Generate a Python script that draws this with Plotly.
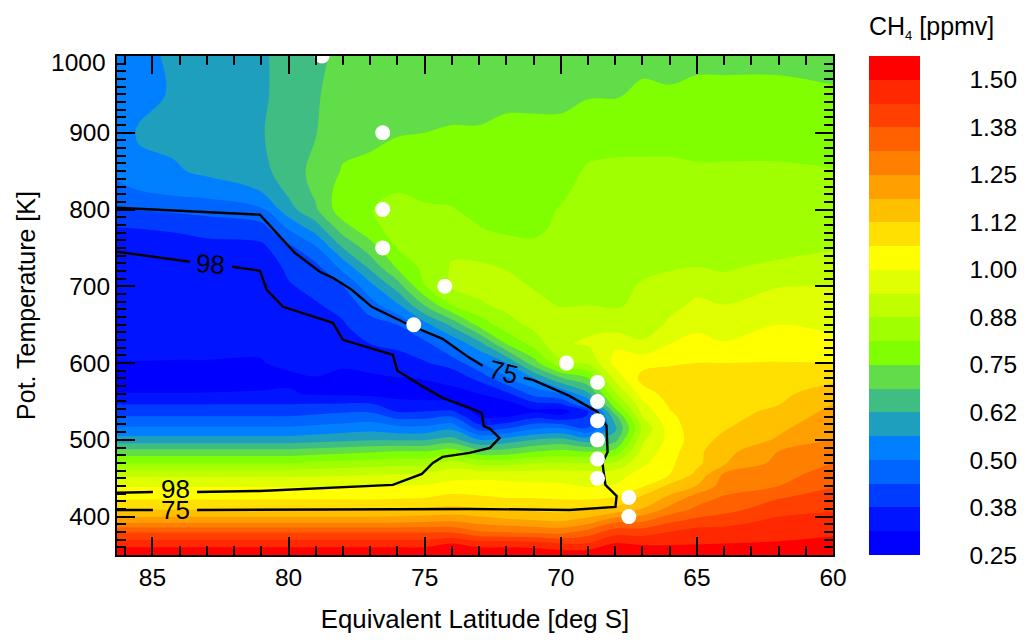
import plotly.graph_objects as go

FONT = "Liberation Sans, Arial, sans-serif"
TICK = 24.5

theta_levels = [350,365,380,395,410,425,440,455,470,485,500,515,530,537,545,560,580,600,625,650,675,700,725,750,775,800,825,850,900,950,1000]
lat_columns = [86.3,85.5,84.2,83,81,80,79,78,77,76,75,74,73,72,71,70,69,68,67,66,65,64,62,60]

ch4_by_lat = [
 [1.56,1.47,1.37,1.22,1.12,1.05,.995,.92,.81,.71,.59,.51,.44,.41,.38,.315,.28,.31,.33,.335,.34,.345,.35,.355,.37,.43,.49,.51,.52,.53,.52],
 [1.56,1.47,1.37,1.22,1.12,1.05,.995,.92,.81,.71,.59,.51,.44,.41,.38,.315,.28,.31,.33,.335,.34,.345,.35,.355,.375,.44,.50,.545,.57,.54,.535],
 [1.56,1.47,1.37,1.22,1.12,1.05,.995,.92,.81,.71,.59,.51,.44,.41,.38,.315,.28,.31,.325,.33,.335,.34,.345,.355,.38,.45,.52,.555,.58,.57,.58],
 [1.56,1.47,1.37,1.22,1.12,1.05,.995,.92,.81,.71,.59,.51,.44,.41,.38,.315,.285,.31,.325,.33,.335,.34,.345,.355,.395,.46,.53,.575,.59,.60,.60],
 [1.56,1.47,1.37,1.22,1.12,1.05,.995,.92,.81,.71,.59,.51,.44,.41,.38,.32,.285,.31,.32,.325,.33,.34,.345,.36,.41,.49,.565,.61,.62,.615,.615],
 [1.56,1.47,1.37,1.22,1.12,1.05,.995,.92,.81,.71,.59,.51,.44,.41,.38,.32,.30,.325,.33,.35,.36,.37,.385,.42,.505,.60,.64,.65,.66,.65,.65],
 [1.56,1.47,1.37,1.22,1.12,1.05,.995,.925,.82,.72,.60,.52,.45,.42,.385,.305,.31,.33,.34,.355,.37,.39,.42,.49,.59,.68,.70,.71,.685,.68,.66],
 [1.56,1.47,1.37,1.22,1.12,1.05,.995,.93,.83,.73,.61,.53,.46,.43,.39,.30,.30,.32,.35,.37,.39,.4375,.52,.625,.72,.79,.78,.755,.73,.72,.72],
 [1.56,1.47,1.37,1.22,1.12,1.05,1.0,.935,.84,.74,.62,.54,.47,.43,.39,.295,.30,.335,.375,.41,.47,.54,.64,.72,.79,.81,.80,.77,.73,.73,.72],
 [1.56,1.47,1.37,1.225,1.125,1.055,1.0,.94,.85,.75,.62,.52,.42,.37,.34,.29,.31,.345,.39,.4375,.55,.655,.76,.815,.84,.83,.81,.79,.745,.73,.72],
 [1.56,1.47,1.37,1.23,1.13,1.06,1.005,.95,.85,.75,.62,.52,.42,.375,.33,.29,.315,.37,.415,.54,.6875,.81,.83,.84,.83,.82,.80,.785,.75,.73,.72],
 [1.56,1.50,1.37,1.24,1.14,1.08,1.02,.975,.90,.78,.65,.55,.4375,.385,.325,.29,.335,.40,.51,.64,.81,.88,.88,.865,.85,.815,.80,.78,.755,.73,.72],
 [1.56,1.47,1.32,1.22,1.125,1.07,1.025,.98,.85,.71,.5625,.41,.31,.285,.27,.3125,.39,.49,.60,.77,.865,.895,.885,.85,.815,.80,.795,.785,.755,.73,.72],
 [1.56,1.47,1.31,1.20,1.12,1.06,1.02,.97,.85,.71,.59,.43,.31,.29,.28,.36,.49,.56,.75,.85,.89,.90,.87,.84,.80,.79,.79,.79,.76,.74,.72],
 [1.56,1.46,1.30,1.19,1.11,1.06,1.015,.97,.875,.745,.625,.49,.36,.30,.34,.46,.56,.72,.835,.89,.90,.87,.855,.82,.805,.80,.80,.79,.76,.74,.72],
 [1.55,1.4375,1.29,1.18,1.10,1.055,1.01,.97,.88,.765,.645,.50,.33,.285,.355,.50,.68,.86,.93,.925,.87,.855,.84,.825,.82,.815,.805,.79,.76,.74,.73],
 [1.55,1.44,1.34,1.21,1.12,1.05,.995,.965,.875,.745,.595,.44,.38,.37,.50,.61,.745,.885,.945,.925,.875,.87,.86,.85,.84,.835,.825,.82,.785,.745,.73],
 [1.54,1.505,1.41,1.29,1.14,1.065,1.005,.97,.885,.77,.665,.61,.665,.725,.78,.87,.955,1.02,.99,.905,.87,.86,.85,.845,.84,.835,.835,.825,.79,.745,.73],
 [1.56,1.49,1.41,1.30,1.19,1.14,1.055,1.025,.985,.955,.925,.885,.9375,.96,.98,1.03,1.085,1.04,.95,.90,.885,.88,.865,.85,.84,.83,.825,.82,.80,.76,.735],
 [1.56,1.49,1.4375,1.36,1.27,1.20,1.14,1.0625,1.05,1.035,1.02,1.03,1.05,1.06,1.07,1.09,1.09,1.055,1.0,.95,.92,.895,.87,.86,.85,.84,.83,.82,.80,.755,.735],
 [1.56,1.495,1.465,1.39,1.325,1.28,1.19,1.14,1.11,1.11,1.10,1.10,1.095,1.09,1.09,1.085,1.075,1.0625,1.02,.985,.95,.92,.875,.865,.85,.84,.83,.82,.79,.76,.74],
 [1.56,1.50,1.46,1.41,1.35,1.32,1.28,1.26,1.18,1.165,1.14,1.12,1.105,1.10,1.095,1.085,1.075,1.0625,1.005,.97,.94,.89,.87,.86,.85,.84,.83,.82,.79,.76,.74],
 [1.56,1.505,1.48,1.45,1.41,1.37,1.3125,1.29,1.27,1.25,1.195,1.175,1.15,1.14,1.125,1.11,1.09,1.065,1.03,1.0,.97,.935,.885,.86,.85,.84,.83,.82,.79,.76,.74],
 [1.56,1.515,1.49,1.46,1.43,1.40,1.37,1.34,1.3125,1.28,1.255,1.235,1.215,1.205,1.19,1.16,1.11,1.0625,1.015,.985,.96,.94,.905,.87,.855,.84,.83,.815,.785,.755,.735],
]
ch4_rows = [list(r) for r in zip(*ch4_by_lat)]

band_colors = ["#0000ff","#0014ff","#003cff","#0064ff","#0080ff","#1e9fbe","#40bd82","#60dd48",
               "#80ff00","#a0ff00","#c0ff00","#e0ff00","#ffff00","#ffe000","#ffc000","#ffa000",
               "#ff8000","#ff6000","#ff4000","#ff2800","#ff0000"]
cb_tick_vals = [.25,.375,.5,.625,.75,.875,1.0,1.125,1.25,1.375,1.5]
cb_tick_text = ["0.25","0.38","0.50","0.62","0.75","0.88","1.00","1.12","1.25","1.38","1.50"]

c98_lat = [86.3,83.62,None,82.08,81.05,80.8,80.2,78.37,78.0,76.17,76.0,75.1,74.34,73.35,72.9,72.83,72.6,72.25,72.6,73.35,74.34,74.7,75.1,76.17,81.05,83.36,None,84.98,86.3]
c98_theta = [745,732,None,725.5,720.3,695.5,673.3,652.5,630.3,610.8,590,570.3,554.7,541.7,535,518.2,514.3,502.5,489.5,483,477.8,470,455.6,441.3,433.4,432,None,432,431]
c75_lat = [86.3,81.05,79.77,78.85,78.37,77.68,76.94,76.17,75.66,74.34,73.35,72.87,None,71.36,71.03,69.68,68.65,68.32,68.28,68.47,68.36,67.95,67.99,69.68,73.35,83.36,None,84.98,86.3]
c75_theta = [802.4,793.3,743.7,719,711.1,695.5,673.3,660.3,651.2,631.6,606.8,596.4,None,580.8,578.2,557.3,536.4,518.2,484.3,470,441.3,426.9,412.6,408.7,410,408.7,None,408.7,408.7]

dot_lat = [78.77,76.54,76.54,76.54,74.26,75.4,69.79,68.65,68.65,68.65,68.65,68.65,68.65,67.5,67.5]
dot_theta = [1000,900,800,750,700,650,600,575,550,525,500,475,450,425,400]

label_text = ["98","75","98","75"]
label_lat = [82.85,72.1,84.15,84.15]
label_theta = [729,588,436,408.5]
label_angle = [4,14,0,0]

n = len(band_colors)
colorscale = []
for i, c in enumerate(band_colors):
    colorscale += [[i/n, c], [(i+1)/n, c]]

fig = go.Figure()
fig.add_trace(go.Contour(
    x=lat_columns, y=theta_levels, z=ch4_rows, zmin=.25, zmax=1.5625,
    colorscale=colorscale, autocontour=False,
    contours=dict(coloring="fill", start=.25, end=1.5625, size=.0625, showlines=False),
    line=dict(width=0), hoverinfo="skip",
    colorbar=dict(x=(869-117)/716, xanchor="left", xpad=0, ypad=0, y=.5, yanchor="middle",
                  len=1, lenmode="fraction", thickness=51, thicknessmode="pixels",
                  outlinewidth=0, tickmode="array", tickvals=cb_tick_vals, ticktext=cb_tick_text,
                  ticks="outside", ticklen=45, tickcolor="rgba(0,0,0,0)",
                  tickfont=dict(family=FONT, size=TICK, color="#000")),
))
for la, th in ((c98_lat, c98_theta), (c75_lat, c75_theta)):
    fig.add_trace(go.Scatter(x=la, y=th, mode="lines", line=dict(color="black", width=2.4), showlegend=False, hoverinfo="skip"))
fig.add_trace(go.Scatter(x=dot_lat, y=dot_theta, mode="markers", marker=dict(color="white", size=15), showlegend=False, hoverinfo="skip"))

for t, la, th, ang in zip(label_text, label_lat, label_theta, label_angle):
    fig.add_annotation(x=la, y=th, text=t, showarrow=False, textangle=ang, font=dict(family=FONT, size=26, color="#000"))
fig.add_annotation(xref="paper", yref="paper", x=0, y=(555-62)/499, xanchor="right", yanchor="middle", xshift=-9, text="1000", showarrow=False,
                   font=dict(family=FONT, size=TICK, color="#000"))
fig.add_annotation(xref="paper", yref="paper", x=(867-117)/716, y=(555-27)/499, xanchor="left", yanchor="middle", text="CH<sub><span style='font-size:13px'>4</span></sub> [ppmv]", showarrow=False,
                   font=dict(family=FONT, size=25, color="#000"))

axis_common = dict(showline=True, linecolor="black", linewidth=2, mirror="ticks", ticks="inside", ticklen=18, tickwidth=1.5,
                   tickcolor="black", showgrid=False, zeroline=False, tickfont=dict(family=FONT, size=TICK, color="#000"))
fig.update_xaxes(range=[86.3,60], tickmode="array", tickvals=[85,80,75,70,65,60], ticktext=["85","80","75","70","65","60"],
                 minor=dict(dtick=1, tick0=60, ticks="inside", ticklen=9, tickwidth=1.5, tickcolor="black"),
                 title=dict(text="Equivalent Latitude [deg S]", font=dict(family=FONT, size=25.8, color="#000"), standoff=20),
                 **axis_common)
fig.update_yaxes(range=[350,1000], tickmode="array", tickvals=[400,500,600,700,800,900],
                 ticktext=["400","500","600","700","800","900"],
                 minor=dict(dtick=10, tick0=350, ticks="inside", ticklen=9, tickwidth=1.5, tickcolor="black"),
                 title=dict(text="Pot. Temperature [K]", font=dict(family=FONT, size=25, color="#000"), standoff=26),
                 **axis_common)
fig.update_layout(width=1028, height=642, autosize=False, margin=dict(l=109, r=203, t=48, b=95),
                  paper_bgcolor="white", plot_bgcolor="white", showlegend=False)
fig.write_html("out.html")
